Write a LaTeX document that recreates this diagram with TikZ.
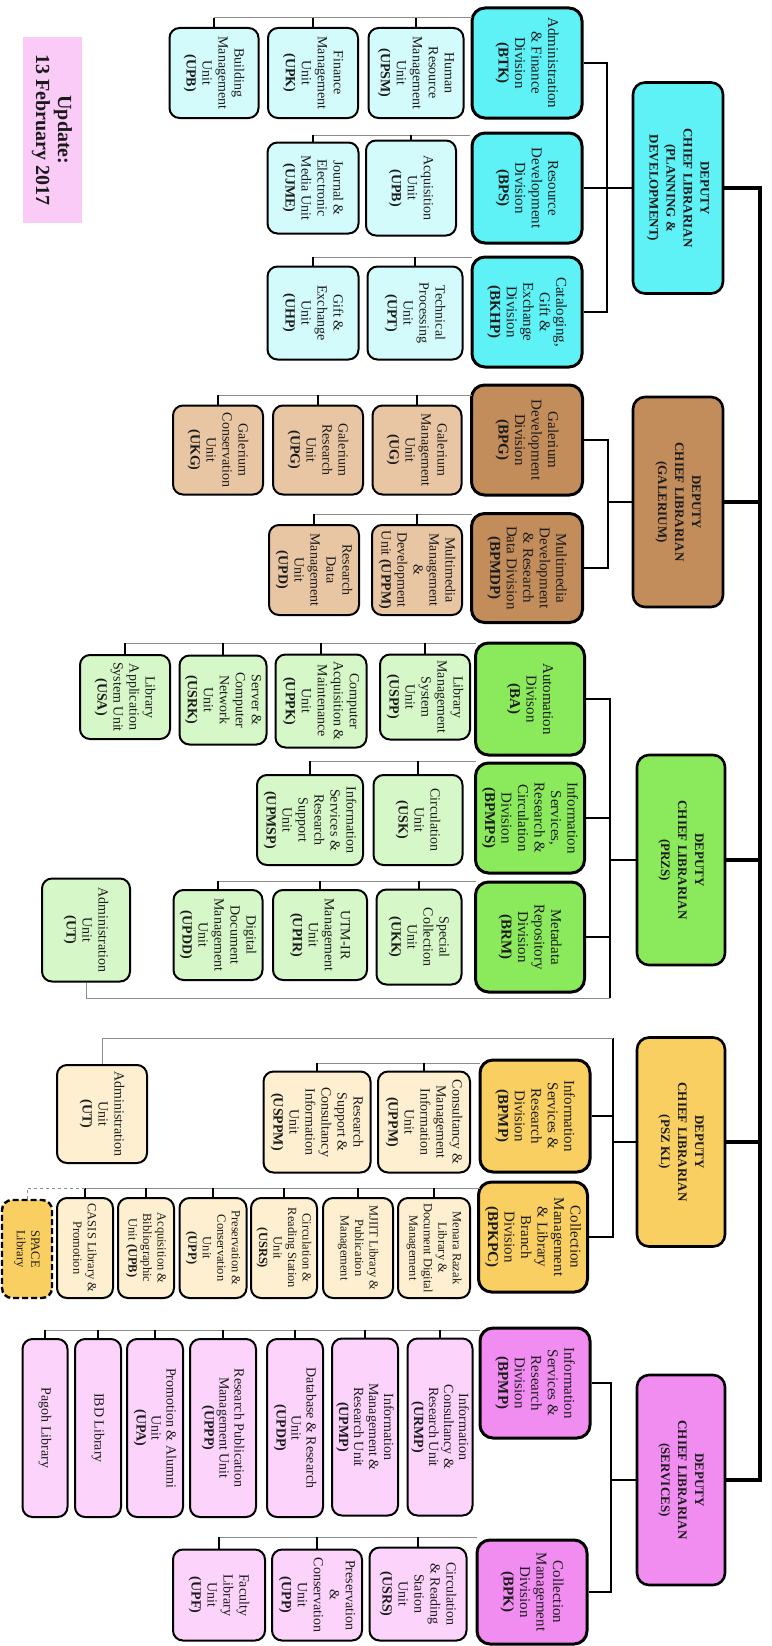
\documentclass[tikz,border=0pt]{standalone}
\usepackage{fontspec}
\setmainfont{Liberation Serif}
\definecolor{cyD}{HTML}{5EF1F6}
\definecolor{cyL}{HTML}{D3FBFC}
\definecolor{brD}{HTML}{C38D5B}
\definecolor{brL}{HTML}{E9C6A3}
\definecolor{grD}{HTML}{8BEA5C}
\definecolor{grL}{HTML}{D6F7C7}
\definecolor{yeD}{HTML}{F9CF62}
\definecolor{yeL}{HTML}{FDEFCF}
\definecolor{piD}{HTML}{F18CF1}
\definecolor{piL}{HTML}{FBD3FB}
\definecolor{updcol}{HTML}{FACBF6}
\definecolor{txt}{HTML}{1A1A1A}
\tikzset{
  box/.style={draw=black, rotate=-90, align=center, inner sep=1pt, text=txt},
  dep/.style={box, line width=2.6pt, rounded corners=12pt, font=\fontsize{13}{17}\selectfont\bfseries},
  div/.style={box, line width=3pt, rounded corners=13pt, font=\fontsize{15}{16.5}\selectfont},
  unit/.style={box, line width=2pt, rounded corners=10pt, font=\fontsize{14}{16}\selectfont},
  sunit/.style={unit, font=\fontsize{12.5}{14.5}\selectfont},
  punit/.style={unit, font=\fontsize{14}{15}\selectfont},
  sz/.style 2 args={minimum height=#1pt, minimum width=#2pt},
  trunk/.style={line width=3.4pt},
  dline/.style={line width=1.8pt},
  bus/.style={draw=black!45, line width=1pt},
  drop/.style={line width=1.6pt},
}
\begin{document}
\begin{tikzpicture}[x=1pt,y=-1pt]
\fill[white] (0,0) rectangle (771,1646);
\useasboundingbox (0,0) rectangle (771,1646);

% Update label
\node[rotate=-90, fill=updcol, sz={59}{185}, align=center, inner sep=1pt,
      font=\fontsize{20}{22}\selectfont\bfseries, text=txt] (upd) at (52,130) {Update:\\13 February 2017};

% ================= PLANNING & DEVELOPMENT =================
\node[dep, fill=cyD, sz={90}{211}] (pd) at (678,188) {DEPUTY\\CHIEF LIBRARIAN\\(PLANNING \&\\DEVELOPMENT)};
\node[div, fill=cyD, sz={110}{110}] (btk) at (527,63) {Administration\\\& Finance\\Division\\\textbf{(BTK)}};
\node[div, fill=cyD, sz={110}{110}] (bps) at (527,188) {Resource\\Development\\Division\\\textbf{(BPS)}};
\node[div, fill=cyD, sz={110}{110}] (bkhp) at (527,312) {Cataloging,\\Gift \&\\Exchange\\Division\\\textbf{(BKHP)}};
\node[unit, fill=cyL, sz={95}{90}] (hr) at (416,73) {Human\\Resource\\Management\\Unit\\\textbf{(UPSM)}};
\node[unit, fill=cyL, sz={90}{90}] (fin) at (313,73) {Finance\\Management\\Unit\\\textbf{(UPK)}};
\node[unit, fill=cyL, sz={89}{90}] (bld) at (214,73) {Building\\Management\\Unit\\\textbf{(UPB)}};
\node[unit, fill=cyL, sz={90}{95}] (acq) at (411,188) {Acquisition\\Unit\\\textbf{(UPB)}};
\node[unit, fill=cyL, sz={91}{91}] (jour) at (313,188) {Journal \&\\Electronic\\Media Unit\\\textbf{(UJME)}};
\node[unit, fill=cyL, sz={95}{93}] (tech) at (415,313) {Technical\\Processing\\Unit\\\textbf{(UPT)}};
\node[unit, fill=cyL, sz={91}{93}] (gift) at (313,313) {Gift \&\\Exchange\\Unit\\\textbf{(UHP)}};

% ================= GALERIUM =================
\node[dep, fill=brD, sz={90}{210}] (gal) at (678,502) {DEPUTY\\CHIEF LIBRARIAN\\(GALERIUM)};
\node[div, fill=brD, sz={111}{110}] (bpg) at (527,440) {Galerium\\Development\\Division\\\textbf{(BPG)}};
\node[div, fill=brD, sz={111}{109}] (bpmdp) at (527,568) {Multimedia\\Development\\\& Research\\Data Division\\\textbf{(BPMDP)}};
\node[unit, fill=brL, sz={89}{89}] (ug) at (417,450) {Galerium\\Management\\Unit\\\textbf{(UG)}};
\node[unit, fill=brL, sz={90}{89}] (upg) at (318,450) {Galerium\\Research\\Unit\\\textbf{(UPG)}};
\node[unit, fill=brL, sz={90}{89}] (ukg) at (218,450) {Galerium\\Conservation\\Unit\\\textbf{(UKG)}};
\node[unit, fill=brL, sz={90}{90}] (uppm) at (417,570) {Multimedia\\Management\\\&\\Development\\Unit \textbf{(UPPM)}};
\node[unit, fill=brL, sz={90}{90}] (updm) at (314,570) {Research\\Data\\Management\\Unit\\\textbf{(UPD)}};

% ================= PRZS =================
\node[dep, fill=grD, sz={88}{210}] (przs) at (681,860) {DEPUTY\\CHIEF LIBRARIAN\\(PRZS)};
\node[div, fill=grD, sz={109}{112}] (ba) at (530,699) {Automation\\Divison\\\textbf{(BA)}};
\node[div, fill=grD, sz={109}{110}] (bpmps) at (530,818) {Information\\Services,\\Research \&\\Circulation\\Division\\\textbf{(BPMPS)}};
\node[div, fill=grD, sz={109}{110}] (brm) at (530,937) {Metadata\\Repository\\Division\\\textbf{(BRM)}};
\node[unit, fill=grL, sz={90}{85}] (uspp) at (425,697) {Library\\Management\\System\\Unit\\\textbf{(USPP)}};
\node[unit, fill=grL, sz={91}{93}] (uppk) at (321,701) {Computer\\Acquisition \&\\Maintenance\\Unit\\\textbf{(UPPK)}};
\node[unit, fill=grL, sz={87}{89}] (usrk) at (223,700) {Server \&\\Computer\\Network\\Unit\\\textbf{(USRK)}};
\node[unit, fill=grL, sz={90}{84}] (usa) at (125,697) {Library\\Application\\System Unit\\\textbf{(USA)}};
\node[unit, fill=grL, sz={89}{90}] (usk) at (418,820) {Circulation\\Unit\\\textbf{(USK)}};
\node[unit, fill=grL, sz={106}{90}] (upmsp) at (310,820) {Information\\Services \&\\Research\\Support\\Unit\\\textbf{(UPMSP)}};
\node[unit, fill=grL, sz={85}{95}] (ukk) at (419,937) {Special\\Collection\\Unit\\\textbf{(UKK)}};
\node[unit, fill=grL, sz={94}{90}] (upir) at (320,935) {UTM-IR\\Management\\Unit\\\textbf{(UPIR)}};
\node[unit, fill=grL, sz={89}{90}] (updd) at (218,935) {Digital\\Document\\Management\\Unit\\\textbf{(UPDD)}};
\node[unit, fill=grL, sz={88}{103}] (utg) at (86,930) {Administration\\Unit\\\textbf{(UT)}};

% ================= PSZ KL =================
\node[dep, fill=yeD, sz={88}{209}] (kl) at (681,1142) {DEPUTY\\CHIEF LIBRARIAN\\(PSZ KL)};
\node[div, fill=yeD, sz={110}{112}] (bpmpkl) at (535,1116) {Information\\Services \&\\Research\\Division\\\textbf{(BPMP)}};
\node[div, fill=yeD, sz={109}{110}] (bpkpc) at (533,1237) {Collection\\Management\\\& Library\\Branch\\Division\\\textbf{(BPKPC)}};
\node[unit, fill=yeL, sz={92}{101}] (uppmkl) at (424,1122) {Consultancy \&\\Management\\Information\\Unit\\\textbf{(UPPM)}};
\node[unit, fill=yeL, sz={107}{101}] (usppm) at (317,1122) {Research\\Support \&\\Consultancy\\Information\\Unit\\\textbf{(USPPM)}};
\node[unit, fill=yeL, sz={90}{98}] (uty) at (102,1114) {Administration\\Unit\\\textbf{(UT)}};
\node[sunit, fill=yeL, sz={72}{100}] (menara) at (434,1248) {Menara Razak\\Library \&\\Document Digital\\Management};
\node[sunit, fill=yeL, sz={70}{100}] (mjiit) at (358,1248) {MJIIT Library \&\\Publication\\Management};
\node[sunit, fill=yeL, sz={66}{100}] (usrskl) at (284,1248) {Circulation \&\\Reading Station\\Unit\\\textbf{(USRS)}};
\node[sunit, fill=yeL, sz={67}{100}] (uppkl) at (213,1248) {Preservation \&\\Conservation\\Unit\\\textbf{(UPP)}};
\node[sunit, fill=yeL, sz={56}{100}] (upbkl) at (146,1248) {Acquisition \&\\Bibliographic\\Unit \textbf{(UPB)}};
\node[sunit, fill=yeL, sz={56}{100}] (casis) at (85,1248) {CASIS Library \&\\Promotion};
\node[sunit, fill=yeD, dash pattern=on 6pt off 3pt, line width=2.4pt, sz={50}{98}] (space) at (27,1249) {SPACE\\Library};

% ================= SERVICES =================
\node[dep, fill=piD, sz={88}{210}] (serv) at (681,1480) {DEPUTY\\CHIEF LIBRARIAN\\(SERVICES)};
\node[div, fill=piD, sz={110}{110}] (bpmps2) at (535,1383) {Information\\Services \&\\Research\\Division\\\textbf{(BPMP)}};
\node[div, fill=piD, sz={110}{104}] (bpk) at (532,1592) {Collection\\Management\\Division\\\textbf{(BPK)}};
\node[punit, fill=piL, sz={65}{177}] (urmp) at (440,1427) {Information\\Consultancy \&\\Research Unit\\\textbf{(URMP)}};
\node[punit, fill=piL, sz={66}{177}] (upmp) at (365,1427) {Information\\Management \&\\Research Unit\\\textbf{(UPMP)}};
\node[punit, fill=piL, sz={56}{178}] (updp) at (295,1428) {Database \& Research\\Unit\\\textbf{(UPDP)}};
\node[punit, fill=piL, sz={66}{178}] (uppp) at (223,1428) {Research Publication\\Management Unit\\\textbf{(UPPP)}};
\node[punit, fill=piL, sz={56}{178}] (upa) at (155,1428) {Promotion \& Alumni\\Unit\\\textbf{(UPA)}};
\node[punit, fill=piL, sz={46}{178}] (ibd) at (98,1428) {IBD Library};
\node[punit, fill=piL, sz={45}{178}] (pagoh) at (45,1428) {Pagoh Library};
\node[unit, fill=piL, sz={97}{93}] (usrs2) at (418,1594) {Circulation\\\& Reading\\Station\\Unit\\\textbf{(USRS)}};
\node[unit, fill=piL, sz={90}{91}] (upp2) at (317,1595) {Preservation\\\&\\Conservation\\Unit\\\textbf{(UPP)}};
\node[unit, fill=piL, sz={92}{91}] (upf) at (219,1595) {Faculty\\Library\\Unit\\\textbf{(UPF)}};

% ================= TRUNK =================
\coordinate (tk1) at (760,188);
\coordinate (tk2) at (760,1480);
\draw[trunk] (pd.north) -- (tk1) -- (tk2) -- (serv.north);
\draw[trunk] (gal.north) -- (gal.north -| tk1);
\draw[trunk] (przs.north) -- (przs.north -| tk1);
\draw[trunk] (kl.north) -- (kl.north -| tk1);

% ================= DIVISION CONNECTORS =================
\coordinate (pb) at (607,188);
\draw[dline] (pd.south) -- (pb);
\draw[dline] (btk.north) -| (pb) |- (bkhp.north);
\draw[dline] (bps.north) -- (pb);

\coordinate (gb) at (608,502);
\draw[dline] (gal.south) -- (gb);
\draw[dline] (bpg.north) -| (gb) |- (bpmdp.north);

\coordinate (zb) at (610,860);
\coordinate (zb2) at (610,998);
\draw[dline] (przs.south) -- (zb);
\draw[dline] (ba.north) -| (zb) -- (zb2);
\draw[dline] (bpmps.north) -| (zb);
\draw[dline] (brm.north) -- (brm.north -| zb);
\draw[bus] (zb2) -| (utg.east);

\coordinate (kb) at (613,1142);
\coordinate (kb0) at (613,1038);
\draw[dline] (kl.south) -- (kb);
\draw[dline] (kb0) -- (kb) |- (bpkpc.north);
\draw[dline] (bpmpkl.north) -- (bpmpkl.north -| kb);
\draw[bus] (kb0) -| (uty.west);

\coordinate (sb) at (611,1480);
\draw[dline] (serv.south) -- (sb);
\draw[dline] (bpmps2.north) -| (sb) |- (bpk.north);

% ================= UNIT BUSES =================
\coordinate (b1) at (472,18);
\draw[bus] (b1) -- (b1 -| bld.west);
\foreach \n in {hr,fin,bld} \draw[drop] (\n.west) -- (\n.west |- b1);
\coordinate (b2) at (470,135);
\draw[bus] (b2) -- (b2 -| jour.west);
\foreach \n in {acq,jour} \draw[drop] (\n.west) -- (\n.west |- b2);
\coordinate (b3) at (472,257);
\draw[bus] (b3) -- (b3 -| gift.west);
\foreach \n in {tech,gift} \draw[drop] (\n.west) -- (\n.west |- b3);
\coordinate (b4) at (472,395);
\draw[bus] (b4) -- (b4 -| ukg.west);
\foreach \n in {ug,upg,ukg} \draw[drop] (\n.west) -- (\n.west |- b4);
\coordinate (b5) at (472,514);
\draw[bus] (b5) -- (b5 -| updm.west);
\foreach \n in {uppm,updm} \draw[drop] (\n.west) -- (\n.west |- b5);
\coordinate (b6) at (476,643);
\draw[bus] (b6) -- (b6 -| usa.west);
\foreach \n in {uspp,uppk,usrk,usa} \draw[drop] (\n.west) -- (\n.west |- b6);
\coordinate (b7) at (476,761);
\draw[bus] (b7) -- (b7 -| upmsp.west);
\foreach \n in {usk,upmsp} \draw[drop] (\n.west) -- (\n.west |- b7);
\coordinate (b8) at (476,881);
\draw[bus] (b8) -- (b8 -| updd.west);
\foreach \n in {ukk,upir,updd} \draw[drop] (\n.west) -- (\n.west |- b8);
\coordinate (b9) at (480,1063);
\draw[bus] (b9) -- (b9 -| usppm.west);
\foreach \n in {uppmkl,usppm} \draw[drop] (\n.west) -- (\n.west |- b9);
\coordinate (b10) at (480,1188);
\draw[bus] (b10) -- (b10 -| casis.west);
\foreach \n in {menara,mjiit,usrskl,uppkl,upbkl,casis} \draw[drop] (\n.west) -- (\n.west |- b10);
\draw[bus, dashed] (b10 -| casis.west) -- (b10 -| space.west) -- (space.west);
\coordinate (b11) at (480,1330);
\draw[bus] (b11) -- (b11 -| pagoh.west);
\foreach \n in {urmp,upmp,updp,uppp,upa,ibd,pagoh} \draw[drop] (\n.west) -- (\n.west |- b11);
\coordinate (b12) at (477,1537);
\draw[bus] (b12) -- (b12 -| upf.west);
\foreach \n in {usrs2,upp2,upf} \draw[drop] (\n.west) -- (\n.west |- b12);
\end{tikzpicture}
\end{document}
